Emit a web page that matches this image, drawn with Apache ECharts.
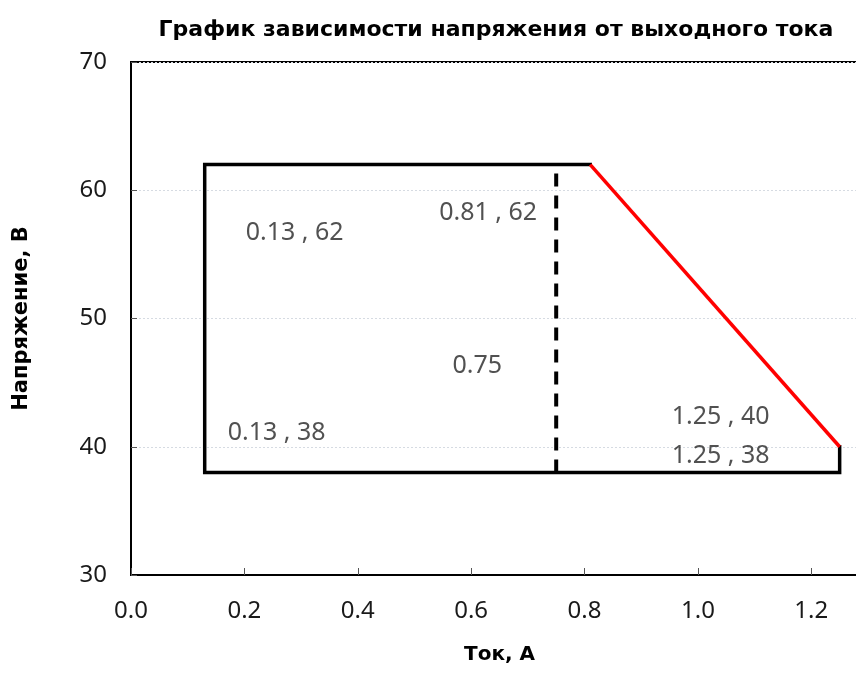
<!DOCTYPE html>
<html>
<head>
<meta charset="utf-8">
<script src="https://cdn.jsdelivr.net/npm/echarts@6/dist/echarts.min.js"></script>
<style>
html,body{margin:0;padding:0;background:#fff;overflow:hidden;}
#chart{width:856px;height:675px;}
</style>
</head>
<body>
<div id="chart"></div>
<script>
// Data
var outlineX = [1.25, 1.25, 0.13, 0.13, 0.81];
var outlineY = [40, 38, 38, 62, 62];
var redX = [0.81, 1.25];
var redY = [62, 40];
var dashX = [0.75, 0.75];
var dashY = [62, 38];
var labelX = [0.13, 0.81, 0.75, 0.13, 1.25, 1.25];
var labelY = [62, 62, 38, 38, 40, 38];
var labelShowY = [true, true, false, true, true, true];
var xTicks = ['0.0', '0.2', '0.4', '0.6', '0.8', '1.0', '1.2'];
var yTicks = ['30', '40', '50', '60', '70'];

function pairs(xs, ys) { return xs.map(function (x, i) { return [x, ys[i]]; }); }

var labelOffsets = [[90, 68], [-102, 48], [-79, -107], [72, -40], [-119, -30], [-119, -17]];

var labelData = labelX.map(function (x, i) {
  return {
    value: [x, labelY[i]],
    label: {
      show: true,
      position: 'inside',
      offset: labelOffsets[i],
      formatter: labelShowY[i] ? (x.toFixed(2) + ' , ' + labelY[i]) : x.toFixed(2)
    }
  };
});

var chart = echarts.init(document.getElementById('chart'));
var tickFont = 'Noto Sans';
var nameFont = 'DejaVu Sans';
chart.setOption({
  animation: false,
  backgroundColor: '#fff',
  title: {
    text: 'График зависимости напряжения от выходного тока',
    left: 491,
    top: 14,
    textAlign: 'center',
    textStyle: { fontFamily: nameFont, fontWeight: 'bold', fontSize: 22, color: '#000' }
  },
  grid: {
    left: 131, top: 62, bottom: 100, width: 737,
    outerBoundsMode: 'none',
    show: true, borderColor: '#000', borderWidth: 2, backgroundColor: 'transparent'
  },
  xAxis: {
    type: 'value', min: 0, max: 1.3, interval: 0.2,
    name: 'Ток, А', nameLocation: 'middle', nameGap: 70,
    nameTextStyle: { fontFamily: nameFont, fontWeight: 'bold', fontSize: 20, color: '#000' },
    axisLine: { show: true, lineStyle: { color: '#000', width: 2 } },
    axisTick: { show: true, inside: true, length: 7, lineStyle: { color: '#555', width: 1 } },
    splitLine: { show: false },
    axisLabel: {
      showMaxLabel: false, margin: 24, fontFamily: tickFont, fontSize: 24, color: '#1a1a1a',
      formatter: function (v) { var s = v.toFixed(1); return xTicks.indexOf(s) >= 0 ? s : ''; }
    }
  },
  yAxis: {
    type: 'value', min: 30, max: 70, interval: 10,
    name: 'Напряжение, В', nameLocation: 'middle', nameGap: 99,
    nameTextStyle: { fontFamily: nameFont, fontWeight: 'bold', fontSize: 21, color: '#000' },
    axisLine: { show: true, lineStyle: { color: '#000', width: 2 } },
    axisTick: { show: true, inside: true, length: 6, lineStyle: { color: '#555', width: 1 } },
    splitLine: { show: true, lineStyle: { color: '#d6dbe2', width: 1, type: [2, 2] } },
    axisLabel: {
      margin: 24, fontFamily: tickFont, fontSize: 24, color: '#1a1a1a',
      formatter: function (v) { var s = String(v); return yTicks.indexOf(s) >= 0 ? s : ''; }
    }
  },
  series: [
    {
      type: 'line', data: pairs(outlineX, outlineY), symbol: 'none',
      lineStyle: { color: '#000', width: 3.5, join: 'miter', cap: 'square' }, z: 3
    },
    {
      type: 'line', data: pairs(redX, redY), symbol: 'none',
      lineStyle: { color: '#ff0000', width: 3.5 }, z: 3
    },
    {
      type: 'line', data: pairs(dashX, dashY), symbol: 'none',
      lineStyle: { color: '#000', width: 4, type: [13, 9], dashOffset: 13 }, z: 2
    },
    {
      type: 'scatter', data: labelData, symbolSize: 0, silent: true,
      label: { fontFamily: tickFont, fontSize: 25, color: '#262626' }, z: 4
    }
  ]
});
</script>
</body>
</html>
